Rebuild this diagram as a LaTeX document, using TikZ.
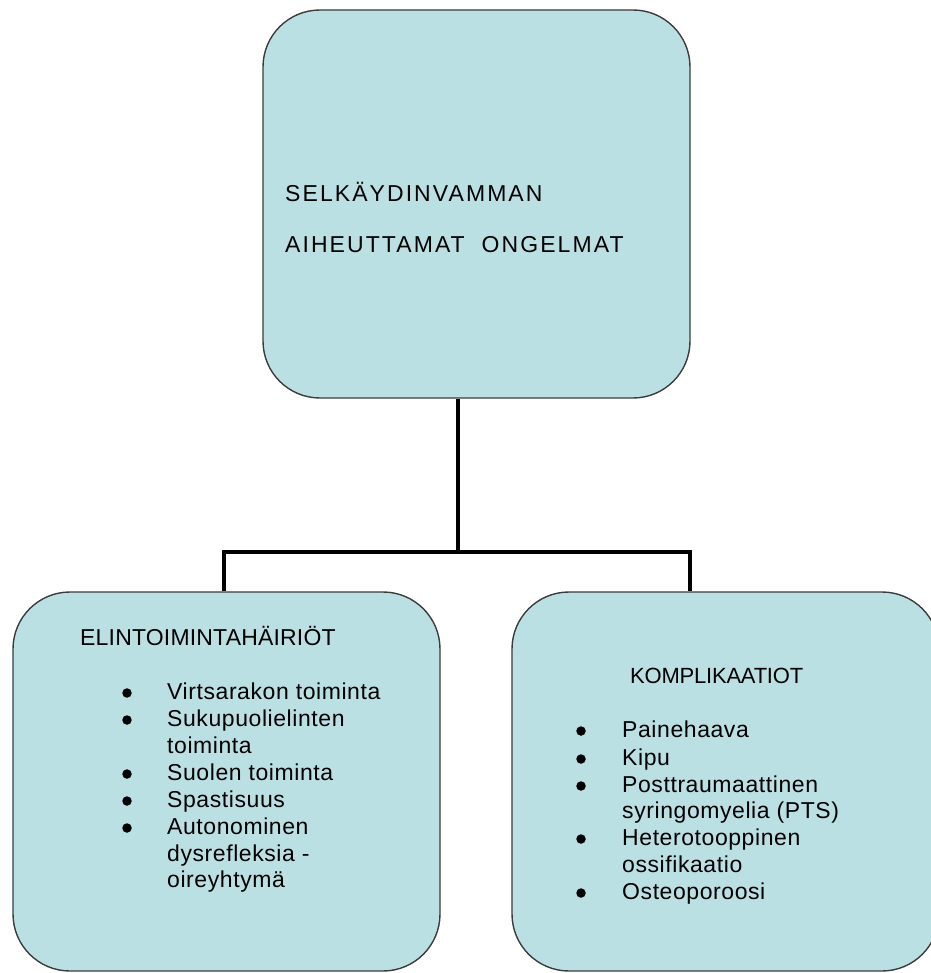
\documentclass[tikz,border=0pt]{standalone}
\usepackage{fontspec}
\setmainfont{Liberation Sans}
\definecolor{boxfill}{RGB}{187,224,228}
\definecolor{boxline}{RGB}{60,60,60}
\begin{document}
\begin{tikzpicture}[x=1pt,y=-1pt,
  box/.style={draw=boxline,line width=1.4pt,fill=boxfill,rounded corners=57pt,
    rectangle,minimum width=427pt,inner sep=0pt},
  conn/.style={draw=black,line width=3.6pt,line join=miter},
  txt/.style={inner sep=0pt,anchor=base west,font=\fontsize{23}{27}\selectfont},
  headtop/.style={txt,font=\fontsize{23}{27}\selectfont\addfontfeature{LetterSpace=9}},
  headl/.style={txt,font=\fontsize{23}{27}\selectfont\addfontfeature{LetterSpace=0.8}},
  headr/.style={txt,font=\fontsize{22}{27}\selectfont\addfontfeature{LetterSpace=-1}},
  item/.style={txt,font=\fontsize{23}{27}\selectfont\addfontfeature{LetterSpace=2.5}},
  bul/.style={circle,fill=black,inner sep=0pt,minimum size=9.5pt}]
\useasboundingbox (0,0) rectangle (930,973);
% boxes
\node[box,minimum height=388pt] (top) at (476.5,204) {};
\node[box,minimum height=379pt] (left) at (226.5,781.5) {};
\node[box,minimum height=379pt] (right) at (725.5,781.5) {};
% connectors
\coordinate (j) at (458,552);
\coordinate (jl) at (224,552);
\coordinate (jr) at (690,552);
\draw[conn] (top.south -| j) -- (j);
\draw[conn] (left.north -| jl) -- (jl) -- (jr) -- (right.north -| jr);
% top text
\node[headtop] (t1) at (285,202) {SELKÄYDINVAMMAN};
\node[headtop] (t2) at (285,253) {AIHEUTTAMAT\ \ ONGELMAT};
% left box
\node[headl] (lh) at (80,645) {ELINTOIMINTAHÄIRIÖT};
\node[item] (l1) at (167,699) {Virtsarakon toiminta};
\node[item] (l2) at (167,726) {Sukupuolielinten};
\node[item] (l3) at (167,753) {toiminta};
\node[item] (l4) at (167,780) {Suolen toiminta};
\node[item] (l5) at (167,807) {Spastisuus};
\node[item] (l6) at (167,834) {Autonominen};
\node[item] (l7) at (167,861) {dysrefleksia -};
\node[item] (l8) at (167,887) {oireyhtymä};
\node[bul] (lb1) at (127,693) {};
\node[bul] (lb2) at (127,720) {};
\node[bul] (lb4) at (127,774) {};
\node[bul] (lb5) at (127,801) {};
\node[bul] (lb6) at (127,828) {};
% right box
\node[headr] (rh) at (630,683) {KOMPLIKAATIOT};
\node[item] (r1) at (622,737) {Painehaava};
\node[item] (r2) at (622,765) {Kipu};
\node[item] (r3) at (622,792) {Posttraumaattinen};
\node[item] (r4) at (622,818) {syringomyelia (PTS)};
\node[item] (r5) at (622,845) {Heterotooppinen};
\node[item] (r6) at (622,872) {ossifikaatio};
\node[item] (r7) at (622,899) {Osteoporoosi};
\node[bul] (rb1) at (581,731) {};
\node[bul] (rb2) at (581,759) {};
\node[bul] (rb3) at (581,786) {};
\node[bul] (rb5) at (581,839) {};
\node[bul] (rb7) at (581,893) {};
\end{tikzpicture}
\end{document}
